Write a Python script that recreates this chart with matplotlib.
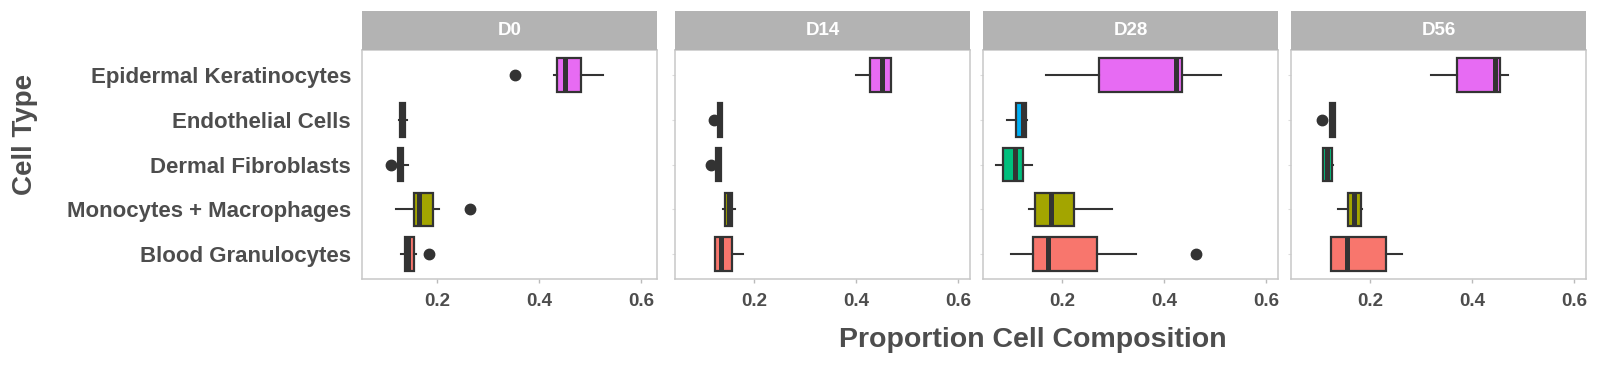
import matplotlib
matplotlib.use("Agg")
import matplotlib.pyplot as plt

# ---------------- data ----------------
categories = ["Blood Granulocytes", "Monocytes + Macrophages", "Dermal Fibroblasts",
              "Endothelial Cells", "Epidermal Keratinocytes"]
fill_colors = ["#F8766D", "#A3A500", "#00BF7D", "#00B0F6", "#E76BF3"]
days = ["D0", "D14", "D28", "D56"]
x_ticks = [0.2, 0.4, 0.6]
x_tick_labels = ["0.2", "0.4", "0.6"]

# per day, in category order (bottom -> top)
d0_q1 = [0.138, 0.155, 0.1235, 0.128, 0.4365]
d0_med = [0.144, 0.166, 0.127, 0.1326, 0.4516]
d0_q3 = [0.1555, 0.193, 0.1346, 0.138, 0.482]
d0_lo = [0.129, 0.121, 0.1235, 0.1255, 0.430]
d0_hi = [0.159, 0.205, 0.144, 0.141, 0.5255]
d0_out = [[0.185], [0.266], [0.111], [], [0.354]]

d14_q1 = [0.124, 0.143, 0.126, 0.130, 0.4287]
d14_med = [0.136, 0.151, 0.131, 0.134, 0.452]
d14_q3 = [0.157, 0.158, 0.1355, 0.138, 0.470]
d14_lo = [0.124, 0.140, 0.126, 0.130, 0.401]
d14_hi = [0.178, 0.164, 0.1355, 0.138, 0.470]
d14_out = [[], [], [0.117], [0.1224], []]

d28_q1 = [0.143, 0.146, 0.0843, 0.1105, 0.2725]
d28_med = [0.172, 0.178, 0.107, 0.123, 0.423]
d28_q3 = [0.269, 0.224, 0.124, 0.130, 0.4353]
d28_lo = [0.099, 0.135, 0.070, 0.091, 0.168]
d28_hi = [0.344, 0.2975, 0.141, 0.131, 0.511]
d28_out = [[0.462], [], [], [], []]

d56_q1 = [0.124, 0.158, 0.109, 0.122, 0.371]
d56_med = [0.155, 0.170, 0.1157, 0.127, 0.4457]
d56_q3 = [0.232, 0.183, 0.1263, 0.1323, 0.456]
d56_lo = [0.123, 0.138, 0.108, 0.122, 0.320]
d56_hi = [0.263, 0.1855, 0.128, 0.1323, 0.4706]
d56_out = [[], [], [], [0.107], []]

day_data = [
    (d0_q1, d0_med, d0_q3, d0_lo, d0_hi, d0_out),
    (d14_q1, d14_med, d14_q3, d14_lo, d14_hi, d14_out),
    (d28_q1, d28_med, d28_q3, d28_lo, d28_hi, d28_out),
    (d56_q1, d56_med, d56_q3, d56_lo, d56_hi, d56_out),
]

# ---------------- layout ----------------
W, H = 1600, 373
fig = plt.figure(figsize=(W / 100, H / 100), dpi=100)
fig.patch.set_facecolor("white")

TXT = "#4D4D4D"
EDGE = "#333333"
FONT = "Liberation Sans"

def rect(x0, y0, x1, y1):
    return [x0 / W, 1 - y1 / H, (x1 - x0) / W, (y1 - y0) / H]

panel_left = [362, 675, 983.3, 1291]
panel_w = 295
ptop, pbot = 49.5, 279.3
strip_top = 10.7
xlims = [(0.0535, 0.6315), (0.0455, 0.624), (0.0455, 0.624), (0.0455, 0.624)]

positions = list(range(1, len(categories) + 1))

for i, day in enumerate(days):
    x0 = panel_left[i]
    ax = fig.add_axes(rect(x0, ptop, x0 + panel_w, pbot))
    q1, med, q3, lo, hi, out = day_data[i]
    stats = []
    for k in range(len(categories)):
        stats.append(dict(med=med[k], q1=q1[k], q3=q3[k], whislo=lo[k],
                          whishi=hi[k], fliers=out[k]))
    bp = ax.bxp(stats, positions=positions, widths=0.75, orientation="horizontal",
                patch_artist=True, showcaps=False,
                boxprops=dict(edgecolor=EDGE, linewidth=1.6),
                whiskerprops=dict(color=EDGE, linewidth=1.5),
                medianprops=dict(color=EDGE, linewidth=3.6, solid_capstyle="butt"),
                flierprops=dict(marker="o", markerfacecolor=EDGE,
                                markeredgecolor=EDGE, markersize=7.5))
    for patch, c in zip(bp["boxes"], fill_colors):
        patch.set_facecolor(c)
    ax.set_xlim(*xlims[i])
    ax.set_ylim(0.44, 5.57)
    ax.set_xticks(x_ticks)
    ax.set_xticklabels(x_tick_labels)
    ax.tick_params(axis="x", length=3, width=1, color="#BBBBBB", pad=7,
                   labelsize=13.5, labelcolor=TXT)
    for lab in ax.get_xticklabels():
        lab.set_fontweight("bold")
        lab.set_fontfamily(FONT)
    ax.set_yticks(positions)
    if i == 0:
        ax.set_yticklabels(categories)
        ax.tick_params(axis="y", length=0, pad=8, labelsize=16, labelcolor=TXT)
        for lab in ax.get_yticklabels():
            lab.set_fontweight("bold")
            lab.set_fontfamily(FONT)
    else:
        ax.set_yticklabels([])
        ax.tick_params(axis="y", length=2, width=0.8, color="#DDDDDD")
    for sp in ax.spines.values():
        sp.set_color("#C8C8C8")
        sp.set_linewidth(1.1)
    ax.set_facecolor("white")

    sax = fig.add_axes(rect(x0, strip_top, x0 + panel_w, ptop))
    sax.set_facecolor("#B3B3B3")
    sax.set_xticks([])
    sax.set_yticks([])
    for sp in sax.spines.values():
        sp.set_visible(False)
    sax.text(0.5, 0.5, day, transform=sax.transAxes, ha="center", va="center",
             color="white", fontsize=13.5, fontweight="bold", fontfamily=FONT)

fig.text(25 / W, 1 - 134 / H, "Cell Type", rotation=90, ha="center", va="center",
         fontsize=20, fontweight="bold", color=TXT, fontfamily=FONT)
fig.text(1033 / W, 1 - 340 / H, "Proportion Cell Composition", ha="center",
         va="center", fontsize=20.5, fontweight="bold", color=TXT, fontfamily=FONT)

fig.savefig("out.png", dpi=100, facecolor="white")
